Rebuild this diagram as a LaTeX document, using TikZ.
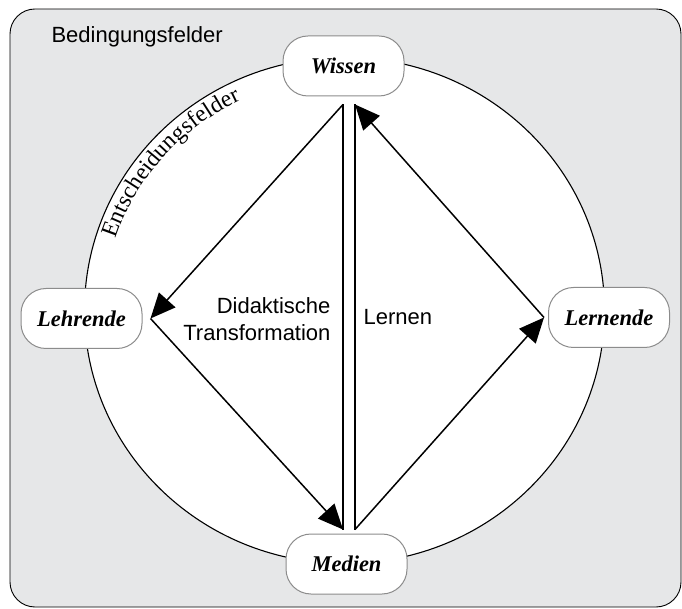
\documentclass[tikz,border=0pt]{standalone}
\usepackage{fontspec}
\setmainfont{Liberation Serif}
\setsansfont{Liberation Sans}
\usetikzlibrary{arrows.meta,decorations.text}
\definecolor{feldgrau}{HTML}{E6E7E8}
\definecolor{randgrau}{HTML}{8C8C8C}

\begin{document}
\begin{tikzpicture}[x=1pt,y=1pt,
    feld/.style={draw=randgrau, fill=white, line width=1pt, rounded corners=25pt,
        minimum width=121pt, minimum height=60pt,
        font=\fontsize{22.5}{27}\selectfont\bfseries\itshape},
    pfeil/.style={-{Triangle[length=25pt,width=22pt]}, line width=1.5pt},
    beschr/.style={font=\sffamily\fontsize{22}{27}\selectfont}]
    \useasboundingbox (0,0) rectangle (682,608);
    % Bedingungsfelder und Entscheidungsfelder
    \draw[fill=feldgrau, line width=0.9pt, rounded corners=25pt] (10,1) rectangle (681,599);
    \draw[fill=white, line width=1.1pt] (344.5,297.5) ellipse [x radius=260, y radius=253];
    \node[beschr, anchor=base west] (bedingung) at (48,565) {Bedingungsfelder};
    \path[decorate, decoration={text along path, text align=center,
        text={|\fontsize{23.5}{24}\selectfont|Entscheidungsfelder}}]
        (344.5,297.5) ++(175:240 and 233) arc[start angle=175, end angle=103, x radius=240, y radius=233];
    % Eckpunkte
    \node[feld] (wissen) at (343.5,542) {Wissen};
    \node[feld] (medien) at (346.5,44) {Medien};
    \node[feld] (lehrende) at (81.5,289.5) {Lehrende};
    \node[feld] (lernende) at (609,290.5) {Lernende};
    \coordinate (wl) at ([xshift=-0.5pt,yshift=-8pt]wissen.south);
    \coordinate (wr) at ([xshift=11.5pt,yshift=-8pt]wissen.south);
    \coordinate (ml) at ([xshift=-3.5pt,yshift=4pt]medien.north);
    \coordinate (mr) at ([xshift=8.5pt,yshift=4pt]medien.north);
    \coordinate (le) at ([xshift=8pt]lehrende.east);
    \coordinate (lw) at ([xshift=-4pt]lernende.west);
    % Left-hand Arrows
    \draw[pfeil] (wl) -- (le);
    \draw[pfeil] (le) -- (ml);
    \draw[line width=1.5pt] (ml) -- (wl);
    % Right-hand Arrows
    \draw[pfeil] (mr) -- (lw);
    \draw[pfeil] (lw) -- (wr);
    \draw[line width=1.5pt] (wr) -- (mr);
    \node[beschr, align=right, anchor=east] (didaktik) at (334,289) {Didaktische\\Transformation};
    \node[beschr, anchor=west] (lernen) at (360,291) {Lernen};
\end{tikzpicture}
\end{document}
